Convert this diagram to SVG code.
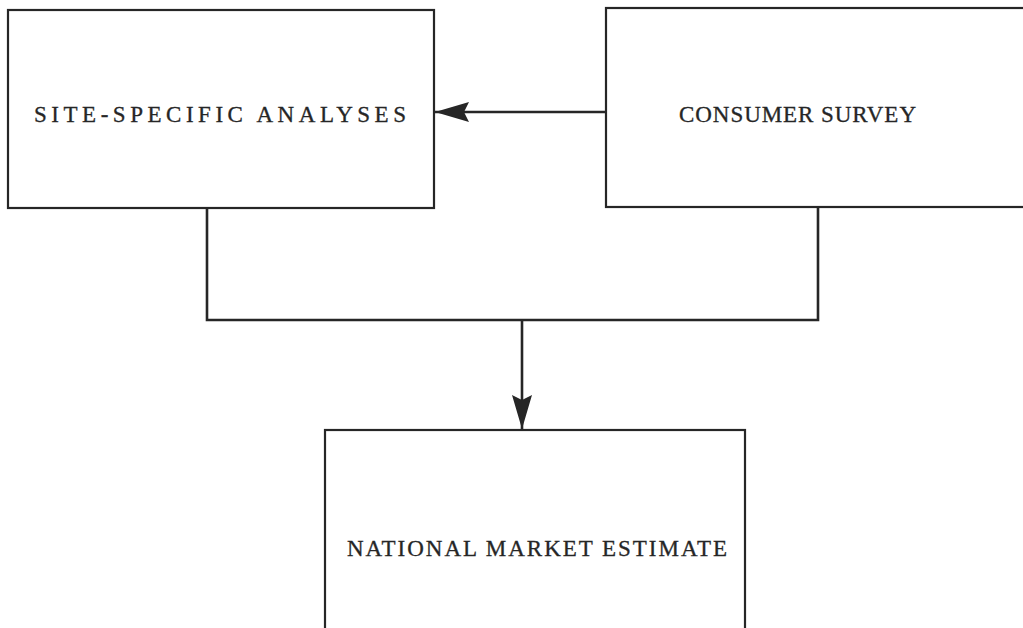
<svg xmlns="http://www.w3.org/2000/svg" width="1023" height="628" viewBox="0 0 1023 628">
<style>
.box{fill:none;stroke:#262626;stroke-width:2.2}
.lbl{font-family:"Liberation Serif","Times New Roman",serif;font-size:23px;fill:#262626;stroke:#262626;stroke-width:0.3}
.conn{fill:none;stroke:#262626;stroke-width:2.6}
</style>
<defs>
<marker id="ah" viewBox="0 0 34 22" refX="34" refY="11" markerWidth="34" markerHeight="22" markerUnits="userSpaceOnUse" orient="auto">
<path d="M0,1 L34,11 L0,21 L5,11 Z" fill="#262626"/>
</marker>
</defs>
<rect width="1023" height="628" fill="#ffffff"/>
<g id="site-specific">
<rect class="box" x="8" y="10" width="426" height="198"/>
<text class="lbl" x="34" y="122" textLength="372" lengthAdjust="spacing">SITE-SPECIFIC ANALYSES</text>
</g>
<g id="consumer-survey">
<rect class="box" x="606" y="8" width="430" height="199"/>
<text class="lbl" x="679" y="122" textLength="237" lengthAdjust="spacing">CONSUMER SURVEY</text>
</g>
<g id="national-market">
<rect class="box" x="325" y="430" width="420" height="210"/>
<text class="lbl" x="347" y="556" textLength="380" lengthAdjust="spacing">NATIONAL MARKET ESTIMATE</text>
</g>
<g id="connectors">
<line class="conn" x1="606" y1="112" x2="435" y2="112" marker-end="url(#ah)"/>
<polyline class="conn" points="207,208 207,320 818,320 818,207"/>
<line class="conn" x1="522" y1="320" x2="522" y2="429" marker-end="url(#ah)"/>
</g>
</svg>
